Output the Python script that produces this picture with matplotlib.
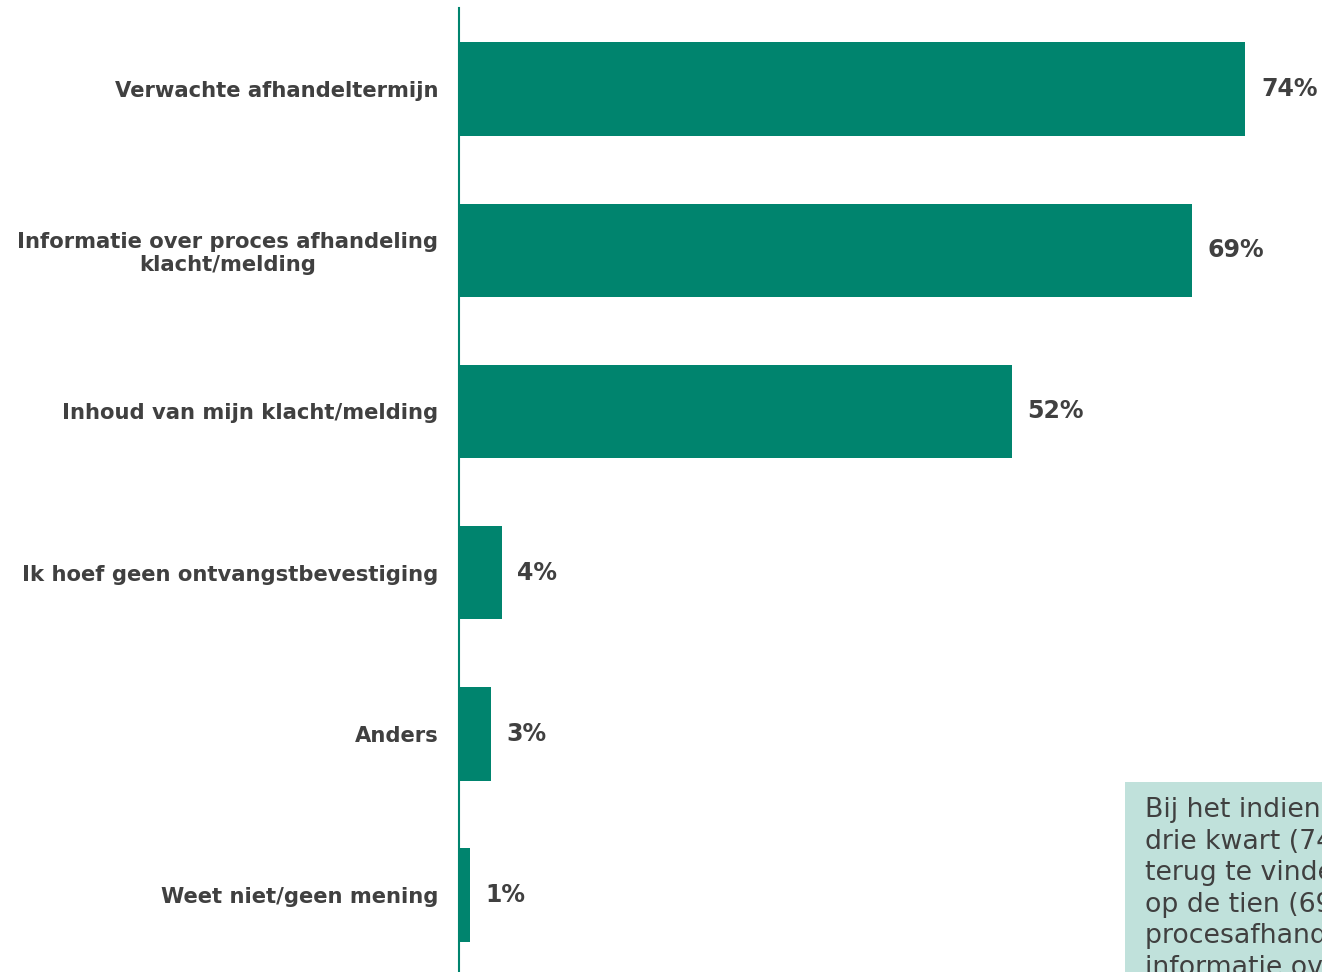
import matplotlib.pyplot as plt
from matplotlib.patches import Rectangle

categories = [
    'Verwachte afhandeltermijn',
    'Informatie over proces afhandeling\nklacht/melding',
    'Inhoud van mijn klacht/melding',
    'Ik hoef geen ontvangstbevestiging',
    'Anders',
    'Weet niet/geen mening',
]
values = [74, 69, 52, 4, 3, 1]

note_lines = [
    'Bij het indienen van een klacht/melding verwacht bijna',
    'drie kwart (74%) de verwachte afhandeltermijn',
    'terug te vinden in de ontvangstbevestiging. Bijna zeven',
    'op de tien (69%) verwacht informatie over de',
    'procesafhandeling en ruim de helft (52%) verwacht',
    'informatie over de inhoud van de klacht/melding.',
]

green = '#00846e'
grey = '#404040'

fig = plt.figure(figsize=(13.22, 9.72), dpi=100)
ax = fig.add_axes([459 / 1322, 0, 1 - 459 / 1322, 964 / 972])

y = range(len(categories))
ax.barh(y, values, height=0.58, color=green)
ax.set_xlim(0, 81.2)
ax.set_ylim(len(categories) - 1 + 0.478, -0.503)

for i, v in enumerate(values):
    ax.text(v + 1.45, i, f'{v}%', va='center', ha='left',
            fontsize=17, fontweight='bold', color=grey)

ax.set_yticks(list(y))
ax.set_yticklabels(categories, fontsize=15.2, fontweight='bold', color=grey,
                   linespacing=1.15, multialignment='center')
ax.tick_params(axis='y', length=0, pad=15)
ax.set_xticks([])
for side in ['top', 'right', 'bottom']:
    ax.spines[side].set_visible(False)
ax.spines['left'].set_color(green)
ax.spines['left'].set_linewidth(1.5)

# note box in the lower right corner, running off the edge
box = Rectangle((1125 / 1322, 0), 1, 190 / 972, transform=fig.transFigure,
                facecolor='#c0e1db', edgecolor='none', zorder=5)
fig.patches.append(box)
fig.text(1145 / 1322, 1 - 797 / 972, '\n'.join(note_lines), fontsize=19.3,
         color=grey, va='top', ha='left', linespacing=1.28, zorder=6)

fig.savefig('out.png', dpi=100)
